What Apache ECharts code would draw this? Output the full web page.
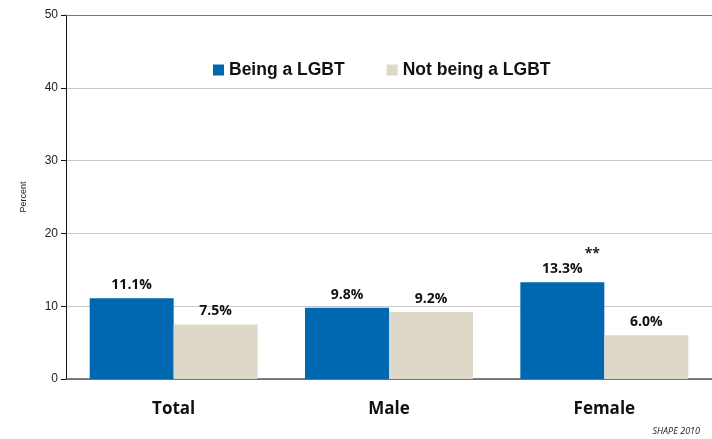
<!DOCTYPE html>
<html>
<head>
<meta charset="utf-8">
<style>html,body{margin:0;padding:0;background:#fff}#chart{width:712px;height:439px}</style>
<script src="https://cdn.jsdelivr.net/npm/echarts@6/dist/echarts.min.js"></script>
</head>
<body>
<div id="chart"></div>
<script>
// Share reporting bullying, by group
const categories = ['Total', 'Male', 'Female'];
const lgbtValues = [11.1, 9.8, 13.3];
const nonLgbtValues = [7.5, 9.2, 6.0];
const seriesNames = ['Being a LGBT', 'Not being a LGBT'];
const yTicks = { min: 0, max: 50, interval: 10 };

const chart = echarts.init(document.getElementById('chart'));

const valueLabel = {
  show: true,
  position: 'top',
  distance: 6,
  formatter: p => p.value.toFixed(1) + '%',
  fontFamily: 'Open Sans',
  fontWeight: 'bold',
  fontSize: 14,
  color: '#111'
};

chart.setOption({
  animation: false,
  grid: { left: 66, right: 0, top: 15, bottom: 60 },
  legend: {
    top: 56,
    left: 208,
    itemWidth: 11,
    itemHeight: 11,
    itemGap: 42,
    icon: 'rect',
    textStyle: { fontFamily: 'Liberation Sans', fontWeight: 'bold', fontSize: 17.5, color: '#111' },
    data: seriesNames
  },
  xAxis: {
    type: 'category',
    data: categories,
    axisTick: { show: false },
    axisLine: { lineStyle: { color: '#555', width: 1.5 } },
    axisLabel: { margin: 22, fontFamily: 'Open Sans', fontWeight: 'bold', fontSize: 17, color: '#111' }
  },
  yAxis: {
    type: 'value',
    min: yTicks.min,
    max: yTicks.max,
    interval: yTicks.interval,
    name: 'Percent',
    nameLocation: 'middle',
    nameGap: 38,
    nameTextStyle: { fontFamily: 'Liberation Sans', fontSize: 9, color: '#222' },
    axisLine: { show: true, lineStyle: { color: '#111', width: 1 } },
    axisTick: { show: true, inside: false, length: 5, lineStyle: { color: '#111' } },
    axisLabel: { margin: 8, fontFamily: 'Liberation Sans', fontSize: 12, color: '#222' },
    splitLine: { lineStyle: { color: '#c8c8c8', width: 1 } }
  },
  series: [
    {
      name: seriesNames[0],
      type: 'bar',
      data: lgbtValues,
      barGap: '0%',
      barCategoryGap: '22%',
      itemStyle: { color: '#0067B1' },
      label: valueLabel,
      markLine: {
        silent: true,
        symbol: 'none',
        label: { show: false },
        lineStyle: { color: '#777', type: 'solid', width: 1 },
        data: [{ yAxis: yTicks.max }]
      }
    },
    {
      name: seriesNames[1],
      type: 'bar',
      data: nonLgbtValues,
      itemStyle: { color: '#DED8C8' },
      label: valueLabel
    }
  ]
});

// significance marker over the Female LGBT bar, placed through the axes
const starPos = chart.convertToPixel({ seriesIndex: 0 }, [2, lgbtValues[2]]);
chart.setOption({
  graphic: [
    {
      type: 'text',
      x: starPos[0] - 12,
      y: starPos[1] - 35,
      style: { text: '**', fontFamily: 'Open Sans', fontWeight: 'bold', fontSize: 14, fill: '#222', align: 'center' }
    },
    {
      type: 'text',
      right: 12,
      bottom: 3,
      style: { text: 'SHAPE 2010', fontFamily: 'Open Sans', fontStyle: 'italic', fontSize: 9, fill: '#222' }
    }
  ]
});
</script>
</body>
</html>
